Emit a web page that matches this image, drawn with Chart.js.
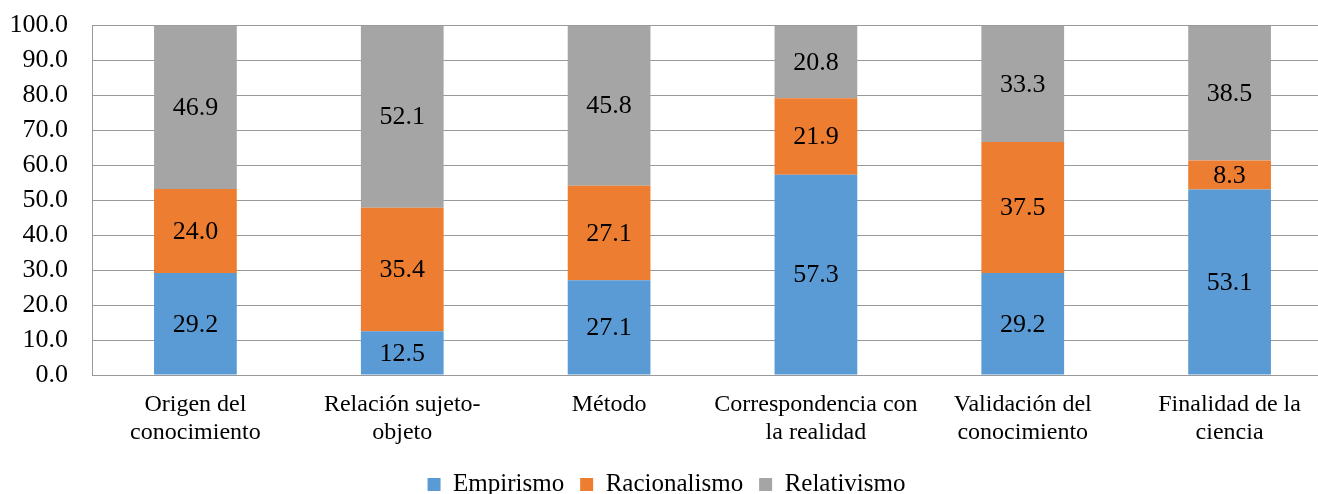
<!DOCTYPE html>
<html>
<head>
<meta charset="utf-8">
<script src="https://cdn.jsdelivr.net/npm/chart.js@4"></script>
<style>
html,body{margin:0;padding:0;background:#fff;overflow:hidden;}
#wrap{position:relative;top:-14px;width:1360px;height:521px;}
</style>
</head>
<body>
<div id="wrap"><canvas id="c"></canvas></div>
<script>
const categories = [
  ["Origen del","conocimiento"],
  ["Relación sujeto-","objeto"],
  "Método",
  ["Correspondencia con","la realidad"],
  ["Validación del","conocimiento"],
  ["Finalidad de la","ciencia"]
];
const empirismo    = [29.2, 12.5, 27.1, 57.3, 29.2, 53.1];
const racionalismo = [24.0, 35.4, 27.1, 21.9, 37.5, 8.3];
const relativismo  = [46.9, 52.1, 45.8, 20.8, 33.3, 38.5];
const seriesNames  = ["Empirismo","Racionalismo","Relativismo"];
const yTicks = [0,10,20,30,40,50,60,70,80,90,100];

const FONT = "'Liberation Serif','Times New Roman',serif";
const FS = 26;

const labelPlugin = {
  id:'segLabels',
  afterDatasetsDraw(chart){
    const ctx = chart.ctx;
    ctx.save();
    ctx.font = FS + "px " + FONT;
    ctx.fillStyle = "#000";
    ctx.textAlign = "center";
    ctx.textBaseline = "middle";
    const area = chart.chartArea;
    chart.data.datasets.forEach((ds, di) => {
      const meta = chart.getDatasetMeta(di);
      meta.data.forEach((bar, i) => {
        const top = Math.max(bar.y, area.top);
        const yc = (top + bar.base) / 2;
        ctx.fillText(ds.data[i].toFixed(1), bar.x, yc + 1);
      });
    });
    ctx.restore();
  }
};

new Chart(document.getElementById('c'), {
  type:'bar',
  data:{
    labels: categories,
    datasets:[
      {label:seriesNames[0], data:empirismo, backgroundColor:'#5B9BD5'},
      {label:seriesNames[1], data:racionalismo, backgroundColor:'#ED7D31'},
      {label:seriesNames[2], data:relativismo, backgroundColor:'#A5A5A5'}
    ]
  },
  options:{
    responsive:true,
    maintainAspectRatio:false,
    animation:false,
    layout:{padding:{top:0,right:27,left:0,bottom:0}},
    datasets:{bar:{barPercentage:0.4, categoryPercentage:1.0, borderWidth:0}},
    plugins:{
      legend:{
        position:'bottom',
        labels:{font:{family:FONT,size:25}, color:'#000', boxWidth:13, boxHeight:13, padding:16}
      },
      tooltip:{enabled:false}
    },
    scales:{
      x:{
        stacked:true,
        afterFit(s){ s.height = 81; },
        grid:{display:false, drawTicks:false},
        border:{display:true, color:'#999999', width:1},
        ticks:{font:{family:FONT,size:24}, color:'#000', padding:15, maxRotation:0, autoSkip:false}
      },
      y:{
        stacked:true, min:0, max:100,
        afterFit(s){ s.width = 92; },
        afterBuildTicks(s){ s.ticks = yTicks.map(v=>({value:v})); },
        grid:{color:'#999999', drawTicks:false},
        border:{display:true, color:'#999999'},
        ticks:{font:{family:FONT,size:FS}, color:'#000', padding:24, autoSkip:false, callback:v=>Number(v).toFixed(1)}
      }
    }
  },
  plugins:[labelPlugin]
});
</script>
</body>
</html>
